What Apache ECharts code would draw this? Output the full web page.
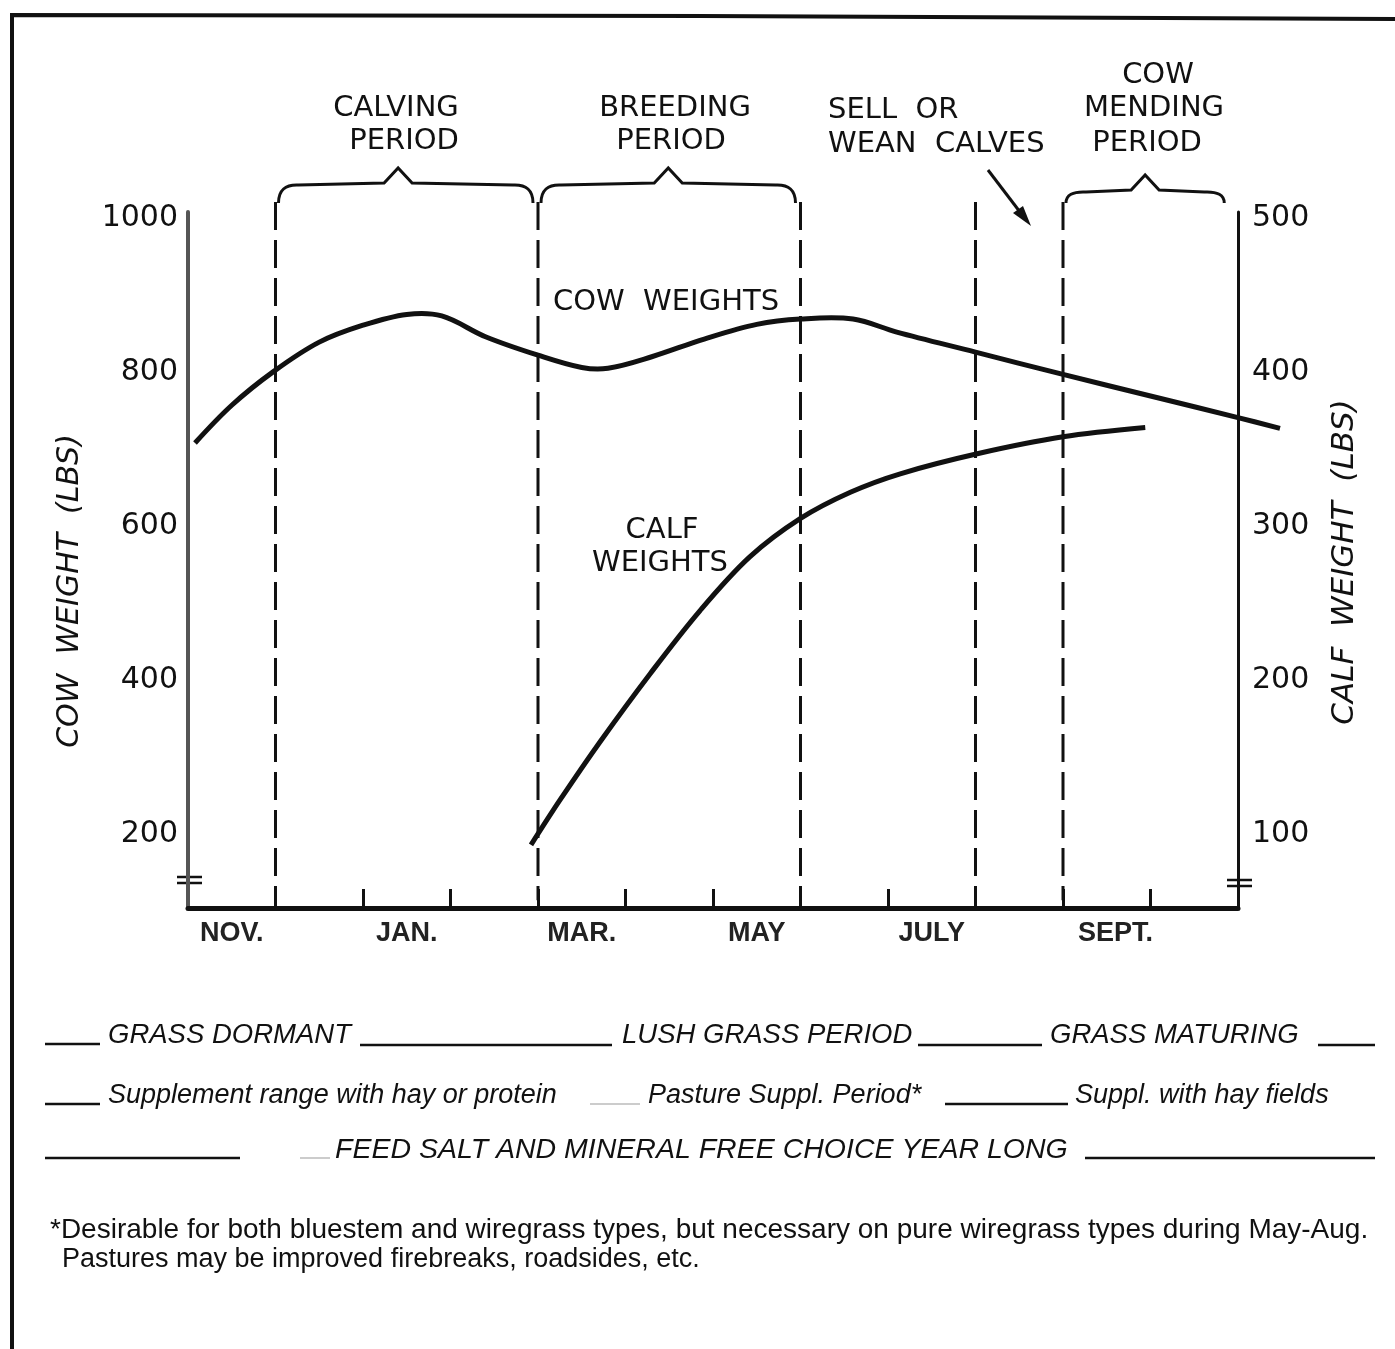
<!DOCTYPE html>
<html><head><meta charset="utf-8">
<script src="https://cdn.jsdelivr.net/npm/echarts@6/dist/echarts.min.js"></script>
<style>html,body{margin:0;padding:0;background:#fff}#c{width:1395px;height:1349px}</style>
</head><body><div id="c"></div>
<script>
// ---- data ----
const monthLabels = ['NOV.', 'JAN.', 'MAR.', 'MAY', 'JULY', 'SEPT.'];
const monthLabelPos = [0.5, 2.5, 4.5, 6.5, 8.5, 10.6];   // months since Nov 1
const monthTicks = [1, 2, 3, 4, 5, 6, 7, 8, 9, 10, 11];
const cowTicks = [200, 400, 600, 800, 1000];
const calfTicks = [100, 200, 300, 400, 500];

const cowMonths  = [0.08, 0.5, 0.98, 1.5, 2.0, 2.5, 2.9, 3.4, 4.0, 4.5, 4.8, 5.3, 5.9, 6.5, 7.0, 7.6, 8.1, 9.0, 10.0, 11.0, 12.0, 12.48];
const cowWeights = [708, 757, 801, 839, 861, 875, 873, 846, 822, 806, 805, 820, 843, 862, 869, 869, 852, 826, 797, 769, 741, 727];

const calfMonths  = [3.92, 4.25, 4.71, 5.28, 5.85, 6.42, 7.0, 7.57, 8.14, 9.02, 10.0, 10.94];
const calfWeights = [93, 122, 160, 204, 245, 280, 305, 322, 334, 347, 358, 364];

const periodBounds = [1, 4, 7, 9, 10];
const periodBrackets = [[1, 4], [4, 7], [10, 11.9]];

// ---- chart ----
const chart = echarts.init(document.getElementById('c'), null, {renderer: 'canvas'});
const INK = '#111';
const FONT = "'DejaVu Sans', sans-serif";
const IT = "'Liberation Sans', Arial, sans-serif";

function zip(a, b) { return a.map((v, i) => [v, b[i]]); }

const graphic = [];
function txt(x, y, s, opt, rot) {
  const g = {type: 'text', x: x, y: y, silent: true,
    style: Object.assign({text: s, fill: INK, font: "29px " + FONT, align: 'center', verticalAlign: 'middle'}, opt || {})};
  if (rot) g.rotation = rot;
  graphic.push(g);
}
function ln(x1, y1, x2, y2, w, c) {
  graphic.push({type: 'line', silent: true, shape: {x1, y1, x2, y2}, style: {stroke: c || INK, lineWidth: w || 3}});
}
// frame
graphic.push({type: 'polyline', silent: true, shape: {points: [[12, 1349], [12, 15], [700, 16], [1395, 19]]}, style: {stroke: INK, lineWidth: 4, fill: null}});
// top annotations
txt(396, 108, 'CALVING'); txt(404, 141, 'PERIOD');
txt(675, 108, 'BREEDING'); txt(671, 141, 'PERIOD');
txt(828, 110, 'SELL  OR', {align: 'left'}); txt(828, 144, 'WEAN  CALVES', {align: 'left'});
txt(1158, 75, 'COW'); txt(1154, 108, 'MENDING'); txt(1147, 143, 'PERIOD');
txt(666, 302, 'COW  WEIGHTS');
txt(662, 530, 'CALF'); txt(660, 563, 'WEIGHTS');
// arrow
ln(988, 170, 1020, 212, 3);
graphic.push({type: 'polygon', silent: true, shape: {points: [[1031, 226], [1013, 213], [1023, 206]]}, style: {fill: INK}});
// axis breaks
ln(177, 877, 202, 877, 2.5); ln(177, 883, 202, 883, 2.5);
ln(1227, 880, 1252, 880, 2.5); ln(1227, 886, 1252, 886, 2.5);
// axis names
txt(70, 591, 'COW  WEIGHT  (LBS)', {font: "italic 30px " + FONT}, Math.PI / 2);
txt(1345, 562, 'CALF  WEIGHT  (LBS)', {font: "italic 31px " + FONT}, Math.PI / 2);
// bottom notes
const F1 = "italic 27.5px " + IT;
ln(45, 1044, 100, 1044, 2.5); txt(108, 1035, 'GRASS DORMANT', {font: F1, align: 'left'});
ln(360, 1045, 612, 1045, 2.5); txt(622, 1035, 'LUSH GRASS PERIOD', {font: F1, align: 'left'});
ln(918, 1045, 1042, 1045, 2.5); txt(1050, 1035, 'GRASS MATURING', {font: F1, align: 'left'});
ln(1318, 1045, 1375, 1045, 2.5);
const F2 = "italic 27px " + IT;
ln(45, 1104, 100, 1104, 2.5); txt(108, 1095, 'Supplement range with hay or protein', {font: F2, align: 'left'});
ln(590, 1104, 640, 1104, 1.5, '#bbb'); txt(648, 1095, 'Pasture Suppl. Period*', {font: F2, align: 'left'});
ln(945, 1104, 1068, 1104, 2.5); txt(1075, 1095, 'Suppl. with hay fields', {font: F2, align: 'left'});
ln(45, 1158, 240, 1158, 2.5); ln(300, 1158, 330, 1158, 1.5, '#bbb');
txt(335, 1150, 'FEED SALT AND MINERAL FREE CHOICE YEAR LONG', {font: "italic 28.5px " + IT, align: 'left'});
ln(1085, 1158, 1375, 1158, 2.5);
txt(50, 1230, '*Desirable for both bluestem and wiregrass types, but necessary on pure wiregrass types during May-Aug.', {font: "28px " + IT, align: 'left'});
txt(62, 1260, 'Pastures may be improved firebreaks, roadsides, etc.', {font: "27px " + IT, align: 'left'});

function smoothLine(months, values) {
  return function (params, api) {
    if (params.dataIndex !== 0) return null;
    const pts = months.map((m, i) => api.coord([m, values[i]]));
    return {type: 'polyline', shape: {points: pts, smooth: 0.35},
      style: {stroke: INK, lineWidth: 5, fill: null, lineJoin: 'round', lineCap: 'butt'}};
  };
}

const option = {
  animation: false,
  backgroundColor: '#fff',
  grid: {left: 188, right: 157, top: 212, bottom: 441, containLabel: false},
  xAxis: {
    type: 'value', min: 0, max: 12,
    axisLine: {show: true, lineStyle: {color: INK, width: 5}},
    axisTick: {show: true, inside: true, length: 19, customValues: monthTicks, lineStyle: {color: INK, width: 3}},
    axisLabel: {
      customValues: monthLabelPos, margin: 12,
      formatter: v => monthLabels[monthLabelPos.indexOf(v)] || '',
      fontFamily: IT, fontWeight: 'bold', fontSize: 27, color: '#222'
    },
    splitLine: {show: false}
  },
  yAxis: [
    {
      type: 'value', min: 104, max: 1008, position: 'left',
      axisLine: {show: true, lineStyle: {color: '#555', width: 4}},
      axisTick: {show: false},
      axisLabel: {customValues: cowTicks, margin: 10, formatter: v => String(v), fontFamily: FONT, fontSize: 30, color: INK},
      splitLine: {show: false}
    },
    {
      type: 'value', min: 52, max: 504, position: 'right',
      axisLine: {show: true, lineStyle: {color: INK, width: 3}},
      axisTick: {show: false},
      axisLabel: {customValues: calfTicks, margin: 14, formatter: v => String(v), fontFamily: FONT, fontSize: 30, color: INK},
      splitLine: {show: false}
    }
  ],
  graphic: graphic,
  series: [
    {
      name: 'Cow weights', type: 'custom', yAxisIndex: 0, clip: false, silent: true,
      data: zip(cowMonths, cowWeights), encode: {x: 0, y: 1},
      renderItem: smoothLine(cowMonths, cowWeights)
    },
    {
      name: 'Calf weights', type: 'custom', yAxisIndex: 1, clip: false, silent: true,
      data: zip(calfMonths, calfWeights), encode: {x: 0, y: 1},
      renderItem: smoothLine(calfMonths, calfWeights)
    },
    {
      name: 'Period boundaries', type: 'custom', yAxisIndex: 0, clip: false, silent: true,
      data: periodBounds.map(m => [m, 1000]),
      encode: {x: 0, y: 1},
      renderItem: function (params, api) {
        const top = api.coord([api.value(0), 1021]);
        const bot = api.coord([api.value(0), 114]);
        return {type: 'line', shape: {x1: top[0], y1: top[1], x2: bot[0], y2: bot[1]},
          style: {stroke: INK, lineWidth: 3, lineDash: [28, 10]}};
      }
    },
    {
      name: 'Period brackets', type: 'custom', yAxisIndex: 0, clip: false, silent: true,
      data: periodBrackets.map(b => [b[0], b[1]]),
      encode: {x: [0, 1]},
      renderItem: function (params, api) {
        const x0 = api.coord([api.value(0), 1000])[0] + 3;
        const x1 = api.coord([api.value(1), 1000])[0] - 5;
        const gTop = params.coordSys.y;
        const lift = params.dataIndex === 2 ? 22 : 29;
        const ly = gTop - lift, py = ly - 15, ey = gTop - 9;
        const cx = params.dataIndex === 0 ? x0 + (x1 - x0) * 0.47 : (x0 + x1) / 2;
        const d = 'M' + x0 + ' ' + ey + ' Q' + x0 + ' ' + (ly + 1) + ' ' + (x0 + 20) + ' ' + (ly + 2) +
          ' L' + (cx - 14) + ' ' + ly + ' L' + cx + ' ' + py + ' L' + (cx + 14) + ' ' + ly +
          ' L' + (x1 - 20) + ' ' + (ly + 2) + ' Q' + x1 + ' ' + (ly + 1) + ' ' + x1 + ' ' + ey;
        return {type: 'path', shape: {pathData: d}, style: {stroke: INK, lineWidth: 3, fill: null}};
      }
    }
  ]
};
chart.setOption(option);
</script>
</body></html>
